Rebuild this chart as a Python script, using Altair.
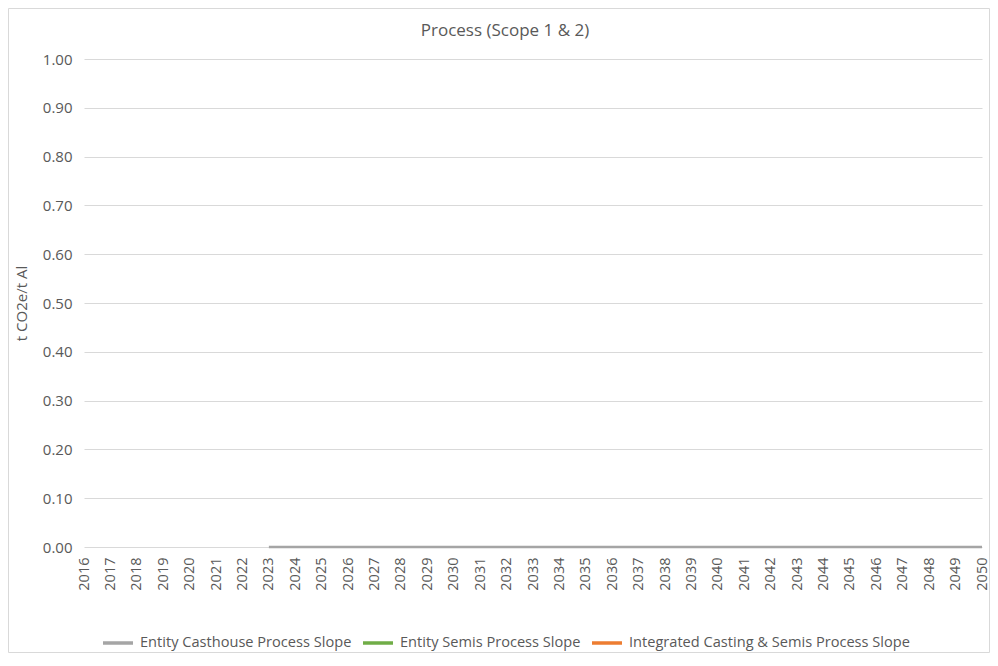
import altair as alt
import pandas as pd

years = list(range(2016, 2051))
series_names = ["Entity Casthouse Process Slope", "Entity Semis Process Slope",
                "Integrated Casting & Semis Process Slope"]
series_colors = ["#a5a5a5", "#70ad47", "#ed7d31"]

casthouse = [None] * 7 + [0.0] * 28
semis = [None] * 35
integrated = [None] * 35

rows = []
for name, vals in zip(series_names, [casthouse, semis, integrated]):
    for y, v in zip(years, vals):
        if v is not None:
            rows.append({"Year": y, "Series": name, "Value": v})
df = pd.DataFrame(rows)

FONT = "Open Sans"
TXT = "#595959"

W, H = 898, 488

lines = alt.Chart(df).mark_line(strokeWidth=2.5, clip=False).encode(
    x=alt.X("Year:Q", scale=alt.Scale(domain=[2016, 2050], nice=False, zero=False),
            axis=alt.Axis(values=years, format="d", labelAngle=270, labelAlign="right",
                          labelBaseline="middle", labelPadding=10, ticks=False,
                          domain=False, grid=False, title=None, labelFontSize=14.5,
                          labelColor=TXT, labelFont=FONT, labelOverlap=False)),
    y=alt.Y("Value:Q", scale=alt.Scale(domain=[0, 1], nice=False),
            axis=alt.Axis(values=[i / 10 for i in range(11)], format=".2f",
                          ticks=False, domain=False, grid=True, gridColor="#d9d9d9",
                          title="t CO2e/t Al", titleFont=FONT, titleFontSize=15,
                          titleFontWeight="normal", titleColor=TXT, titlePadding=13,
                          labelFontSize=15, labelColor=TXT, labelFont=FONT, labelPadding=12)),
    color=alt.Color("Series:N",
                    scale=alt.Scale(domain=series_names, range=series_colors),
                    legend=alt.Legend(orient="none", legendX=17, legendY=567,
                                      direction="horizontal", title=None,
                                      symbolType="stroke", symbolStrokeWidth=3.5,
                                      symbolSize=900, labelFontSize=14.6,
                                      labelColor=TXT, labelFont=FONT, columnPadding=4,
                                      labelOffset=5, labelLimit=500)),
    detail="Series:N",
)

frame = alt.Chart(pd.DataFrame({"a": [0]})).mark_rect(
    fill=None, stroke="#d9d9d9", strokeWidth=1, clip=False
).encode(x=alt.value(-75.5), x2=alt.value(905.5), y=alt.value(-50.5), y2=alt.value(593.5))

chart = alt.layer(frame, lines).properties(
    width=W, height=H,
    background="white",
    title=alt.TitleParams("Process (Scope 1 & 2)", anchor="middle", dx=-28, offset=-32,
                          frame="group",
                          font=FONT, fontSize=17, fontWeight="normal", color=TXT),
    autosize=alt.AutoSizeParams(type="none"),
    padding={"left": 76, "top": 51, "right": 8, "bottom": 106},
).configure_view(strokeWidth=0, stroke="transparent")

chart.save("out.html", embed_options={"renderer": "svg", "actions": False})
